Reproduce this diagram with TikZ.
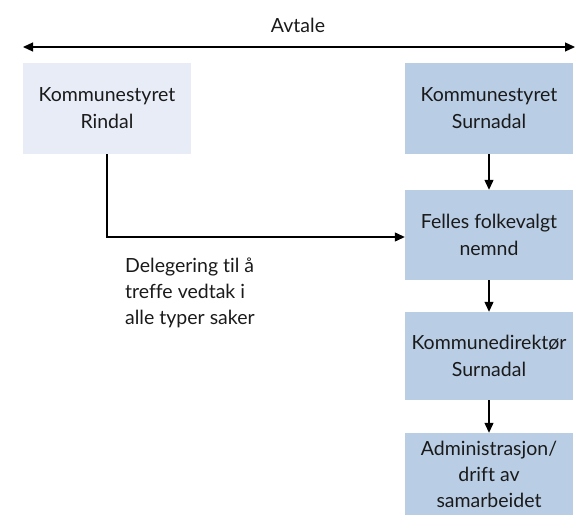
\documentclass[tikz,border=0pt]{standalone}
\usepackage{fontspec}
\setmainfont{Lato}[Ligatures={NoCommon,NoContextual}]
\usetikzlibrary{arrows.meta}
\definecolor{boxdark}{HTML}{B9CDE5}
\definecolor{boxlight}{HTML}{E8ECF7}
\definecolor{txt}{HTML}{1A1A1A}
\begin{document}
\begin{tikzpicture}[x=1pt,y=-1pt,
  box/.style={draw=none, minimum width=168pt, align=center, inner sep=0pt,
    font=\fontsize{19.5}{27}\selectfont, text=txt},
  conn/.style={line width=1.2pt, -{Triangle[length=10pt,width=9pt]}},
  lbl/.style={font=\fontsize{19.5}{26}\selectfont, text=txt, inner sep=0pt}
]
\useasboundingbox (0,0) rectangle (577,529);
\node[box, fill=boxlight, minimum height=91pt] (rindal) at (107,108.5) {Kommunestyret\\Rindal};
\node[box, fill=boxdark, minimum height=91pt] (surnadal) at (489,108.5) {Kommunestyret\\Surnadal};
\node[box, fill=boxdark, minimum height=90pt] (felles) at (489,235) {Felles folkevalgt\\nemnd};
\node[box, fill=boxdark, minimum height=88pt] (direktor) at (489,356) {Kommunedirektør\\Surnadal};
\node[box, fill=boxdark, minimum height=82pt, font=\fontsize{19.5}{26}\selectfont] (admin) at (489,474) {Administrasjon/\\drift av\\samarbeidet};
\coordinate (avl) at (23,47);
\coordinate (avr) at (575,47);
\draw[line width=1.2pt, {Triangle[length=10pt,width=9pt]}-{Triangle[length=10pt,width=9pt]}] (avl) -- (avr);
\node[lbl] (avtale) at (298,25) {Avtale};
\node[lbl, anchor=north west, align=left] (deleg) at (125,258) {Delegering til å\\treffe vedtak i\\alle typer saker};
\draw[conn] (surnadal) -- (felles);
\draw[conn] (felles) -- (direktor);
\draw[conn] (direktor) -- (admin);
\draw[conn] (rindal.south) |- ([yshift=-2pt]felles.west);
\end{tikzpicture}
\end{document}
